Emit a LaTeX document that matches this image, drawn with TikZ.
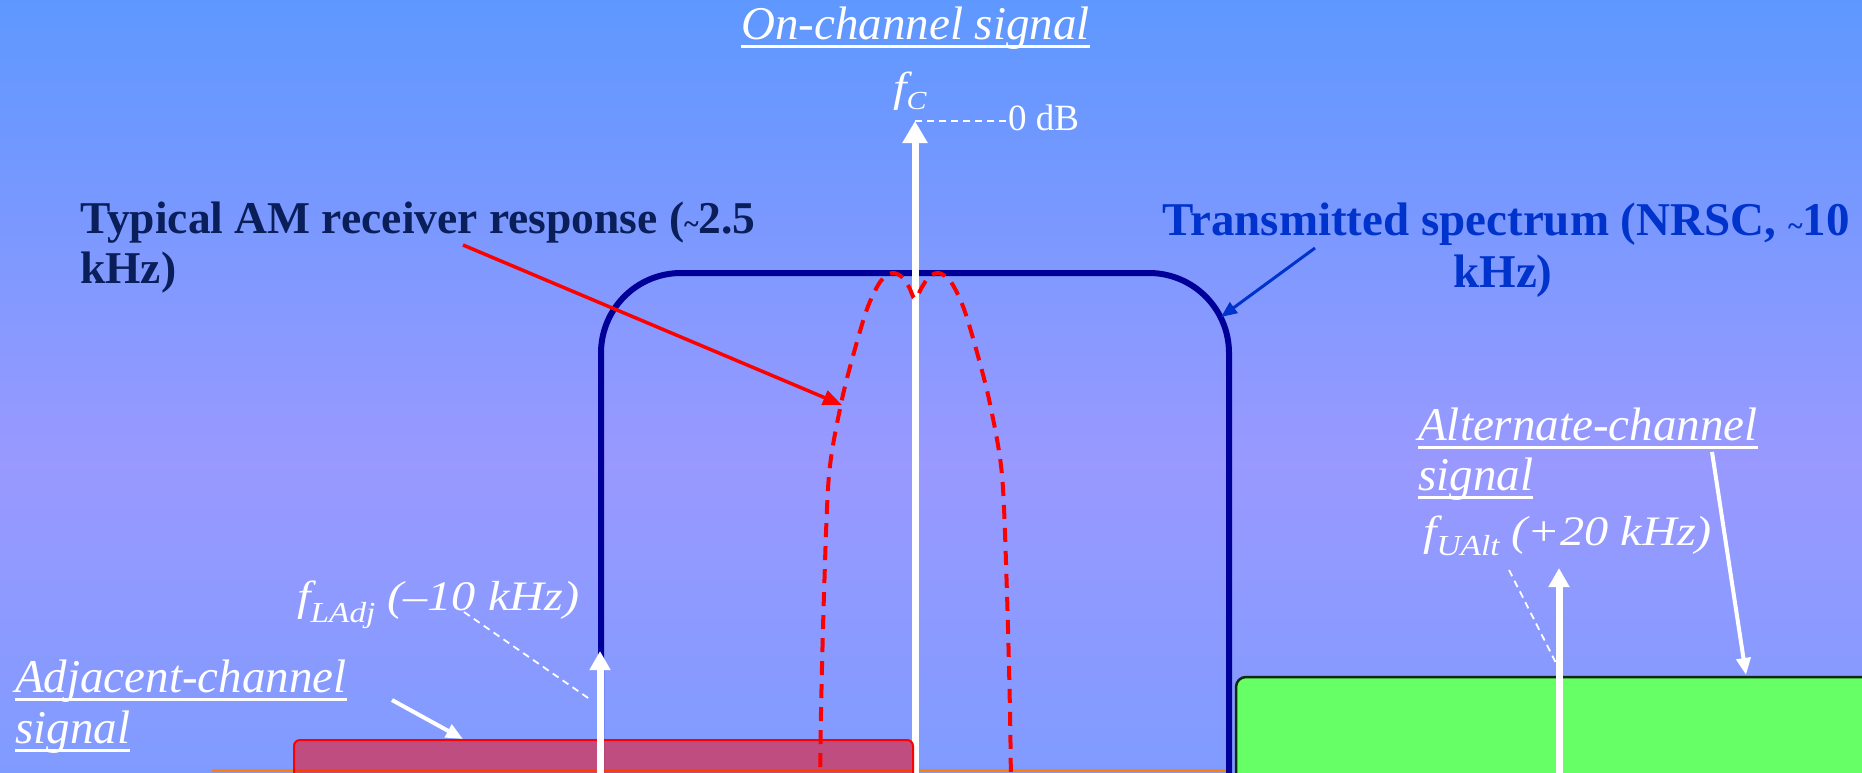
\documentclass[tikz,border=0pt]{standalone}
\usepackage{fontspec}
\setmainfont{Liberation Serif}
\newfontfamily\wideserif[FakeStretch=1.15]{Liberation Serif}
\usetikzlibrary{arrows.meta}
\newcommand{\myul}[1]{\leavevmode\setbox0\hbox{#1}\rlap{\vrule height -6.4pt depth 9pt width \wd0}\box0}
\definecolor{bgtop}{RGB}{94,152,255}
\definecolor{bgmid}{RGB}{153,153,255}
\definecolor{bgbot}{RGB}{128,155,255}
\definecolor{navybox}{RGB}{0,0,153}
\definecolor{typnavy}{RGB}{10,30,90}
\definecolor{trblue}{RGB}{0,51,204}
\definecolor{altgreen}{RGB}{102,255,102}
\definecolor{altedge}{RGB}{15,42,15}
\definecolor{axisorange}{RGB}{255,128,0}
\pgfdeclareverticalshading{bgshade}{100bp}{color(0bp)=(bgbot); color(25bp)=(bgbot); color(45bp)=(bgmid); color(75bp)=(bgtop); color(100bp)=(bgtop)}
\tikzset{
  whitearrow/.style={draw=white, line width=7pt, -{Triangle[length=22pt,width=24pt]}},
  whitearrowsm/.style={draw=white, line width=7pt, -{Triangle[length=19pt,width=20pt]}},
  whiteptr/.style={draw=white, line width=4pt, -{Triangle[length=17pt,width=14pt]}},
  redptr/.style={draw=red, line width=3.5pt, -{Triangle[length=19pt,width=15pt]}},
  blueptr/.style={draw=trblue, line width=3pt, -{Triangle[length=16pt,width=13pt]}},
  whitedash/.style={draw=white, line width=1.8pt, dash pattern=on 7pt off 5pt},
  titlelbl/.style={text=white, inner sep=0pt, font=\fontsize{47}{50}\selectfont\itshape},
  flbl/.style={text=white, inner sep=0pt, font=\wideserif\itshape\fontsize{42}{46}\selectfont},
  typlbl/.style={text=typnavy, inner sep=0pt, font=\bfseries\fontsize{45.5}{50}\selectfont},
  trlbl/.style={text=trblue, inner sep=0pt, font=\bfseries\fontsize{47}{50}\selectfont},
}
\begin{document}
\begin{tikzpicture}[x=1pt,y=-1pt]
\useasboundingbox (0,0) rectangle (1862,772);
\clip (0,0) rectangle (1862,772);
\fill[shading=bgshade] (0,0) rectangle (1862,772);
% axis line
\draw[axisorange, line width=3pt] (212,770.5) -- (1229,770.5);
% alternate channel block
\draw[fill=altgreen, draw=altedge, line width=2.5pt, rounded corners=10pt]
  (1236,800) -- (1236,677) -- (1890,677) -- (1890,800);
% transmitted spectrum
\draw[navybox, line width=6pt, rounded corners=80pt]
  (601,800) -- (601,273) -- (1229,273) -- (1229,800);
% on-channel carrier
\coordinate (fcbase) at (915,800);
\coordinate (fctip) at (915,121);
\draw[whitearrow] (fcbase) -- (fctip);
% adjacent channel block
\draw[draw=red, line width=2pt, fill=red, fill opacity=0.5, rounded corners=6pt]
  (294,800) -- (294,740) -- (913,740) -- (913,800);
% adjacent and alternate carriers
\coordinate (ladjbase) at (600,800);
\coordinate (ladjtip) at (600,651);
\draw[whitearrowsm] (ladjbase) -- (ladjtip);
\coordinate (ualtbase) at (1559,800);
\coordinate (ualttip) at (1559,568);
\draw[whitearrowsm] (ualtbase) -- (ualttip);
% receiver response
\draw[red, line width=4pt, dash pattern=on 14pt off 9pt]
  plot[smooth, tension=0.5] coordinates {(820,790) (821,712) (824,594) (829,475) (841,404) (853,356) (867,309) (880,282) (892,273) (902,277) (909,287) (915,299) (922,287) (929,277) (939,273) (951,282) (964,309) (978,356) (990,404) (1002,475) (1007,594) (1010,712) (1011,790)};
% labels
\node[titlelbl, anchor=base] (ontitle) at (915.5,39) {\myul{On-channel signal}};
\node[flbl, anchor=base west] (fc) at (893,101) {f\raisebox{-8pt}{\fontsize{26}{26}\selectfont C}};
\node[text=white, inner sep=0pt, anchor=base west, font=\fontsize{37}{40}\selectfont] (zerodb) at (1008,130) {0 dB};
\draw[whitedash] (fctip) -- (fctip -| zerodb.west);
\node[typlbl, anchor=base west] (typ1) at (80,233) {Typical AM receiver response ({\fontsize{28}{28}\selectfont\textasciitilde}2.5};
\node[typlbl, anchor=base west] (typ2) at (80,283) {kHz)};
\node[trlbl, anchor=base] (tr1) at (1506,235) {Transmitted spectrum (NRSC, {\fontsize{28}{28}\selectfont\textasciitilde}10};
\node[trlbl, anchor=base] (tr2) at (1503,287) {kHz)};
\node[flbl, anchor=base west] (fladj) at (297,610) {f\raisebox{-12pt}{\fontsize{29}{29}\selectfont LAdj} (–10 kHz)};
\node[flbl, anchor=base west] (fualt) at (1423,545) {f\raisebox{-10pt}{\fontsize{29}{29}\selectfont UAlt} (+20 kHz)};
\node[titlelbl, anchor=base west] (adj1) at (15,692) {\myul{Adjacent-channel}};
\node[titlelbl, anchor=base west] (adj2) at (15,743) {\myul{signal}};
\node[titlelbl, anchor=base west] (alt1) at (1418,440) {\myul{Alternate-channel}};
\node[titlelbl, anchor=base west] (alt2) at (1418,490) {\myul{signal}};
% pointers
\coordinate (redstart) at (463,245);
\coordinate (redend) at (842,405);
\draw[redptr] (redstart) -- (redend);
\coordinate (bluestart) at (1315,248);
\coordinate (blueend) at (1221,317);
\draw[blueptr] (bluestart) -- (blueend);
\coordinate (adjstart) at (392,700);
\coordinate (adjend) at (463,739);
\draw[whiteptr] (adjstart) -- (adjend);
\coordinate (altstart) at (1712,452);
\coordinate (altend) at (1746,675);
\draw[whiteptr] (altstart) -- (altend);
\coordinate (ladjdash1) at (464,612);
\coordinate (ladjdash2) at (591,700);
\draw[whitedash] (ladjdash1) -- (ladjdash2);
\coordinate (ualtdash1) at (1509,570);
\coordinate (ualtdash2) at (1557,665);
\draw[whitedash] (ualtdash1) -- (ualtdash2);
\end{tikzpicture}
\end{document}
